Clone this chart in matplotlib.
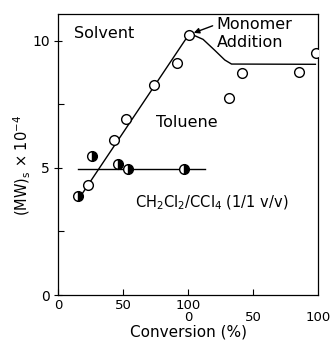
import numpy as np
import matplotlib
matplotlib.use("Agg")
import matplotlib.pyplot as plt

# Toluene (open circles); x is on a 0-200 axis, 100-200 = after monomer addition
tol_x = [22.6, 43.1, 51.8, 73.8, 91.8, 100.3, 131.5, 141.5, 185.2, 198.8]
tol_y = [4.32, 6.11, 6.91, 8.27, 9.11, 10.23, 7.73, 8.71, 8.75, 9.51]

# CH2Cl2/CCl4 (half-filled circles)
mix_x = [15.4, 26.2, 46.2, 53.4, 96.9]
mix_y = [3.89, 5.46, 5.15, 4.94, 4.95]

# hand-drawn guide lines
tol_line_x = [16, 100, 102.6, 111.5, 120.5, 128.2, 133.4, 198]
tol_line_y = [3.80, 10.20, 10.25, 10.05, 9.62, 9.24, 9.08, 9.07]
mix_line_x = [15, 113]
mix_line_y = [4.95, 4.95]

plt.rcParams["font.family"] = "DejaVu Sans"
fig = plt.figure(figsize=(3.33, 3.48), dpi=100)
ax = fig.add_axes([0.175, 0.152, 0.78, 0.808])

ax.plot(tol_line_x, tol_line_y, color="black", lw=1.0, zorder=1)
ax.plot(mix_line_x, mix_line_y, color="black", lw=1.0, zorder=1)
ax.plot(tol_x, tol_y, "o", ms=7, mfc="white", mec="black", mew=1.0, zorder=3)
ax.plot(mix_x, mix_y, "o", ms=7, fillstyle="right", mfc="black",
        markerfacecoloralt="white", mec="black", mew=1.0, zorder=3)

ax.set_xlim(0, 200)
ax.set_ylim(0, 11.05)
ax.set_xticks([0, 50, 100, 150])
ax.set_xticklabels(["0", "50", "100", ""])
ax.set_yticks([0, 5, 10])
ax.set_yticks([2.5, 7.5], minor=True)
ax.tick_params(axis="both", which="both", direction="in", labelsize=9.5,
               length=4, width=0.8, pad=3)
ax.tick_params(axis="y", which="major", direction="inout", length=6,
               labelsize=10)

# second conversion scale after monomer addition
sec = ax.secondary_xaxis("bottom", functions=(lambda x: x - 100, lambda x: x + 100))
sec.set_xticks([0, 50, 100])
sec.tick_params(length=0, labelsize=9.5, pad=11.5)
sec.spines["bottom"].set_visible(False)

for s in ax.spines.values():
    s.set_linewidth(0.9)

ax.set_xlabel("Conversion (%)", fontsize=11, labelpad=9)
ax.set_ylabel(r"(MW)$_\mathrm{s}$ × 10$^{-4}$", fontsize=10.5)
ax.yaxis.set_label_coords(-0.097, 0.46)

ax.text(12, 10.3, "Solvent", fontsize=11.5, va="center", ha="left")
ax.text(75, 6.8, "Toluene", fontsize=11.5, va="center", ha="left")
ax.text(59, 3.62, r"CH$_2$Cl$_2$/CCl$_4$ (1/1 v/v)", fontsize=10.5,
        va="center", ha="left")
ax.annotate("Monomer\nAddition", xy=(100.3, 10.23), xytext=(122, 10.28),
            fontsize=11.5, ha="left", va="center", linespacing=1.25,
            arrowprops=dict(arrowstyle="-|>", color="black", lw=1.0,
                            mutation_scale=8, shrinkA=1, shrinkB=4,
                            relpos=(0, 0.78)))

fig.savefig("out.png", dpi=100)
